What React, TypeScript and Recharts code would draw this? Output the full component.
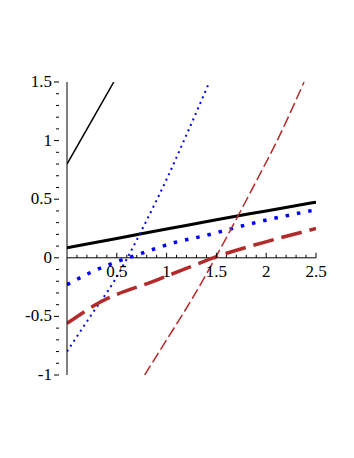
import { LineChart, Line, XAxis, YAxis, ReferenceLine, ReferenceDot } from "recharts";

// each curve
const thinBlackX = [0, 0.47];
const thinBlackY = [0.8, 1.5];

const thickBlackX = [0, 0.5, 1, 1.5, 2, 2.5];
const thickBlackY = [0.085, 0.165, 0.245, 0.325, 0.4, 0.475];

const thinBlueX = [0, 0.25, 0.48, 0.6, 0.8, 1.0, 1.2, 1.43];
const thinBlueY = [-0.8, -0.48, -0.19, -0.01, 0.32, 0.67, 1.05, 1.5];

const thickBlueX = [0, 0.25, 0.48, 0.72, 1.08, 1.34, 1.94, 2.5];
const thickBlueY = [-0.23, -0.12, -0.04, 0.03, 0.13, 0.18, 0.31, 0.41];

const thickBrownX = [0, 0.33, 0.9, 1.23, 1.5, 1.97, 2.5];
const thickBrownY = [-0.56, -0.38, -0.19, -0.08, 0.01, 0.13, 0.25];

const thinBrownX = [0.78, 1.0, 1.27, 1.49, 1.7, 1.91, 2.11, 2.38];
const thinBrownY = [-1, -0.7, -0.33, 0, 0.33, 0.67, 1.0, 1.5];

const xTicks = [
  0.1, 0.2, 0.3, 0.4, 0.5, 0.6, 0.7, 0.8, 0.9, 1.0, 1.1, 1.2, 1.3, 1.4, 1.5,
  1.6, 1.7, 1.8, 1.9, 2.0, 2.1, 2.2, 2.3, 2.4, 2.5,
];
const yTicks = [
  -1.0, -0.9, -0.8, -0.7, -0.6, -0.5, -0.4, -0.3, -0.2, -0.1, 0, 0.1, 0.2, 0.3,
  0.4, 0.5, 0.6, 0.7, 0.8, 0.9, 1.0, 1.1, 1.2, 1.3, 1.4, 1.5,
];

const BROWN = "#b22a2a";
const BLUE = "#0000ff";
const FONT = "Liberation Serif, Times New Roman, serif";

const pts = (xs: number[], ys: number[]) => xs.map((x, i) => ({ x, y: ys[i] }));

const isMajor = (v: number) => Math.abs(v * 2 - Math.round(v * 2)) < 1e-6;
const fmt = (v: number) => String(Math.round(v * 10) / 10);

function YTick(props: any) {
  const { x, y, payload } = props;
  const v = payload.value as number;
  const major = isMajor(v);
  return (
    <g>
      <line x1={x} x2={x - (major ? 5 : 3)} y1={y} y2={y} stroke="#000" />
      {major && (
        <text x={x - 7} y={y} dy={5} textAnchor="end" style={{ fontFamily: FONT }} fontSize={17} fill="#000">
          {fmt(v)}
        </text>
      )}
    </g>
  );
}

function XTickMark(props: any) {
  const { cx, cy, v } = props;
  const major = isMajor(v);
  return (
    <g>
      <line x1={cx} x2={cx} y1={cy} y2={cy - (major ? 5 : 3)} stroke="#000" />
      {major && (
        <text x={cx} y={cy + 19} textAnchor="middle" style={{ fontFamily: FONT }} fontSize={17} fill="#000">
          {fmt(v)}
        </text>
      )}
    </g>
  );
}

export default function App() {
  return (
    <div style={{ position: "absolute", left: 0, top: 0, background: "#fff" }}>
      <LineChart width={354} height={458} margin={{ top: 82, right: 38, bottom: 83, left: 27 }}>
        <XAxis type="number" dataKey="x" domain={[0, 2.5]} hide allowDataOverflow />
        <YAxis
          type="number"
          domain={[-1, 1.5]}
          ticks={yTicks}
          interval={0}
          width={40}
          allowDataOverflow
          axisLine={{ stroke: "#000" }}
          tickLine={false}
          tick={<YTick />}
        />
        <ReferenceLine y={0} stroke="#000" strokeWidth={1} />
        {xTicks.map((v) => (
          <ReferenceDot
            key={v}
            x={v}
            y={0}
            r={0}
            shape={(p: any) => <XTickMark {...p} v={v} />}
          />
        ))}
        <Line data={pts(thinBlackX, thinBlackY)} dataKey="y" type="linear" stroke="#000" strokeWidth={1.5} dot={false} isAnimationActive={false} />
        <Line data={pts(thickBlackX, thickBlackY)} dataKey="y" type="monotone" stroke="#000" strokeWidth={3} dot={false} isAnimationActive={false} />
        <Line data={pts(thinBlueX, thinBlueY)} dataKey="y" type="monotone" stroke={BLUE} strokeWidth={2} strokeDasharray="2 4" dot={false} isAnimationActive={false} />
        <Line data={pts(thickBlueX, thickBlueY)} dataKey="y" type="monotone" stroke={BLUE} strokeWidth={3.5} strokeDasharray="3.5 8" dot={false} isAnimationActive={false} />
        <Line data={pts(thickBrownX, thickBrownY)} dataKey="y" type="monotone" stroke={BROWN} strokeWidth={3.5} strokeDasharray="21 8" dot={false} isAnimationActive={false} />
        <Line data={pts(thinBrownX, thinBrownY)} dataKey="y" type="monotone" stroke={BROWN} strokeWidth={1.5} strokeDasharray="11 4" dot={false} isAnimationActive={false} />
      </LineChart>
    </div>
  );
}
